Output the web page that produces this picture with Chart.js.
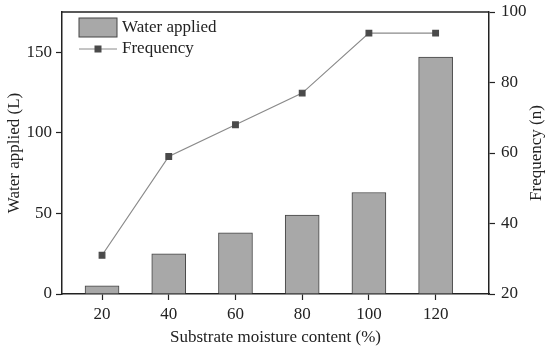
<!DOCTYPE html>
<html>
<head>
<meta charset="utf-8">
<script src="https://cdn.jsdelivr.net/npm/chart.js@4"></script>
<style>
  html, body { margin: 0; padding: 0; background: #fff; }
  #wrap { width: 550px; height: 352px; }
</style>
</head>
<body>
<div id="wrap"><canvas id="c" width="550" height="352"></canvas></div>
<script>
// ---------------------------------------------------------------------------
// Daten
// ---------------------------------------------------------------------------
const moisture = [20, 40, 60, 80, 100, 120];
const waterApplied = [5, 25, 38, 49, 63, 147];
const frequency = [31, 59, 68, 77, 94, 94];
const leftTicks = [0, 50, 100, 150];
const rightTicks = [20, 40, 60, 80, 100];
const rightTitle = "Frequency (n)";

const FONT = "'Liberation Serif', 'Times New Roman', serif";
const INK = "#222";
const FS = 17;

// Legende innerhalb der Plotfläche, Rahmen oben, rechter Achsentitel
const boxPlugin = {
    id: "boxLegend",
    afterDraw(chart) {
        const ctx = chart.ctx;
        const a = chart.chartArea;
        ctx.save();
        ctx.strokeStyle = INK;
        ctx.lineWidth = 1.5;
        ctx.beginPath();
        ctx.moveTo(a.left, a.top);
        ctx.lineTo(a.right, a.top);
        ctx.stroke();

        const bar = chart.data.datasets[0];
        const line = chart.data.datasets[1];
        const x0 = a.left + 17;
        // Balken-Eintrag
        ctx.fillStyle = bar.backgroundColor;
        ctx.strokeStyle = bar.borderColor;
        ctx.lineWidth = 1;
        ctx.fillRect(x0, a.top + 6, 38, 19);
        ctx.strokeRect(x0, a.top + 6, 38, 19);
        // Linien-Eintrag
        const ly = a.top + 37;
        ctx.strokeStyle = line.borderColor;
        ctx.beginPath();
        ctx.moveTo(x0, ly);
        ctx.lineTo(x0 + 38, ly);
        ctx.stroke();
        ctx.fillStyle = line.pointBackgroundColor;
        ctx.fillRect(x0 + 19 - 3.5, ly - 3.5, 7, 7);

        ctx.fillStyle = INK;
        ctx.font = FS + "px " + FONT;
        ctx.textBaseline = "middle";
        ctx.textAlign = "left";
        ctx.fillText(bar.label, x0 + 43, a.top + 16);
        ctx.fillText(line.label, x0 + 43, ly);

        // rechter Titel, von unten nach oben gelesen
        ctx.translate(chart.width - 13, (a.top + a.bottom) / 2);
        ctx.rotate(-Math.PI / 2);
        ctx.textAlign = "center";
        ctx.fillText(rightTitle, 0, 0);
        ctx.restore();
    }
};

// feste Achsenbreite, ohne Zusatzabstand oben/unten
function fixVertical(w) {
    return s => { s.width = w; s.paddingTop = 0; s.paddingBottom = 0; };
}

new Chart(document.getElementById("c"), {
    data: {
        datasets: [
            {
                type: "bar",
                label: "Water applied",
                data: moisture.map((m, i) => ({ x: m, y: waterApplied[i] })),
                backgroundColor: "#a8a8a8",
                borderColor: "#444",
                borderWidth: 1,
                barThickness: 34,
                yAxisID: "y",
                order: 2
            },
            {
                type: "line",
                label: "Frequency",
                data: moisture.map((m, i) => ({ x: m, y: frequency[i] })),
                borderColor: "#8a8a8a",
                borderWidth: 1.2,
                pointStyle: "rect",
                pointRadius: 4,
                pointBackgroundColor: "#4a4a4a",
                pointBorderColor: "#4a4a4a",
                yAxisID: "y1",
                order: 1
            }
        ]
    },
    options: {
        responsive: false,
        animation: false,
        layout: { padding: { top: 12, left: 0, right: 0, bottom: 0 } },
        plugins: { legend: { display: false }, tooltip: { enabled: false } },
        scales: {
            x: {
                type: "linear",
                offset: false,
                min: 8,
                max: 136,
                afterBuildTicks: s => { s.ticks = moisture.map(v => ({ value: v })); },
                grid: { offset: false, drawOnChartArea: false, tickLength: 6, tickColor: INK, tickWidth: 1.2 },
                border: { color: INK, width: 1.5 },
                ticks: { color: INK, font: { family: FONT, size: FS }, padding: 4, maxRotation: 0 },
                title: { display: true, text: "Substrate moisture content (%)", color: INK,
                         font: { family: FONT, size: FS }, padding: { top: 1 } },
                afterFit: s => { s.height = 58; s.paddingLeft = 0; s.paddingRight = 0; }
            },
            y: {
                position: "left",
                min: 0,
                max: 175,
                afterBuildTicks: s => { s.ticks = leftTicks.map(v => ({ value: v })); },
                grid: { drawOnChartArea: false, tickLength: 6, tickColor: INK, tickWidth: 1.2 },
                border: { color: INK, width: 1.5 },
                ticks: { color: INK, font: { family: FONT, size: FS }, padding: 4 },
                title: { display: true, text: "Water applied (L)", color: INK,
                         font: { family: FONT, size: FS }, padding: { bottom: 1 } },
                afterFit: fixVertical(62)
            },
            y1: {
                position: "right",
                min: 20,
                max: 100,
                afterBuildTicks: s => { s.ticks = rightTicks.map(v => ({ value: v })); },
                grid: { drawOnChartArea: false, tickLength: 6, tickColor: INK, tickWidth: 1.2 },
                border: { color: INK, width: 1.5 },
                ticks: { color: INK, font: { family: FONT, size: FS }, padding: 6 },
                title: { display: false },
                afterFit: fixVertical(61)
            }
        }
    },
    plugins: [boxPlugin]
});
</script>
</body>
</html>
